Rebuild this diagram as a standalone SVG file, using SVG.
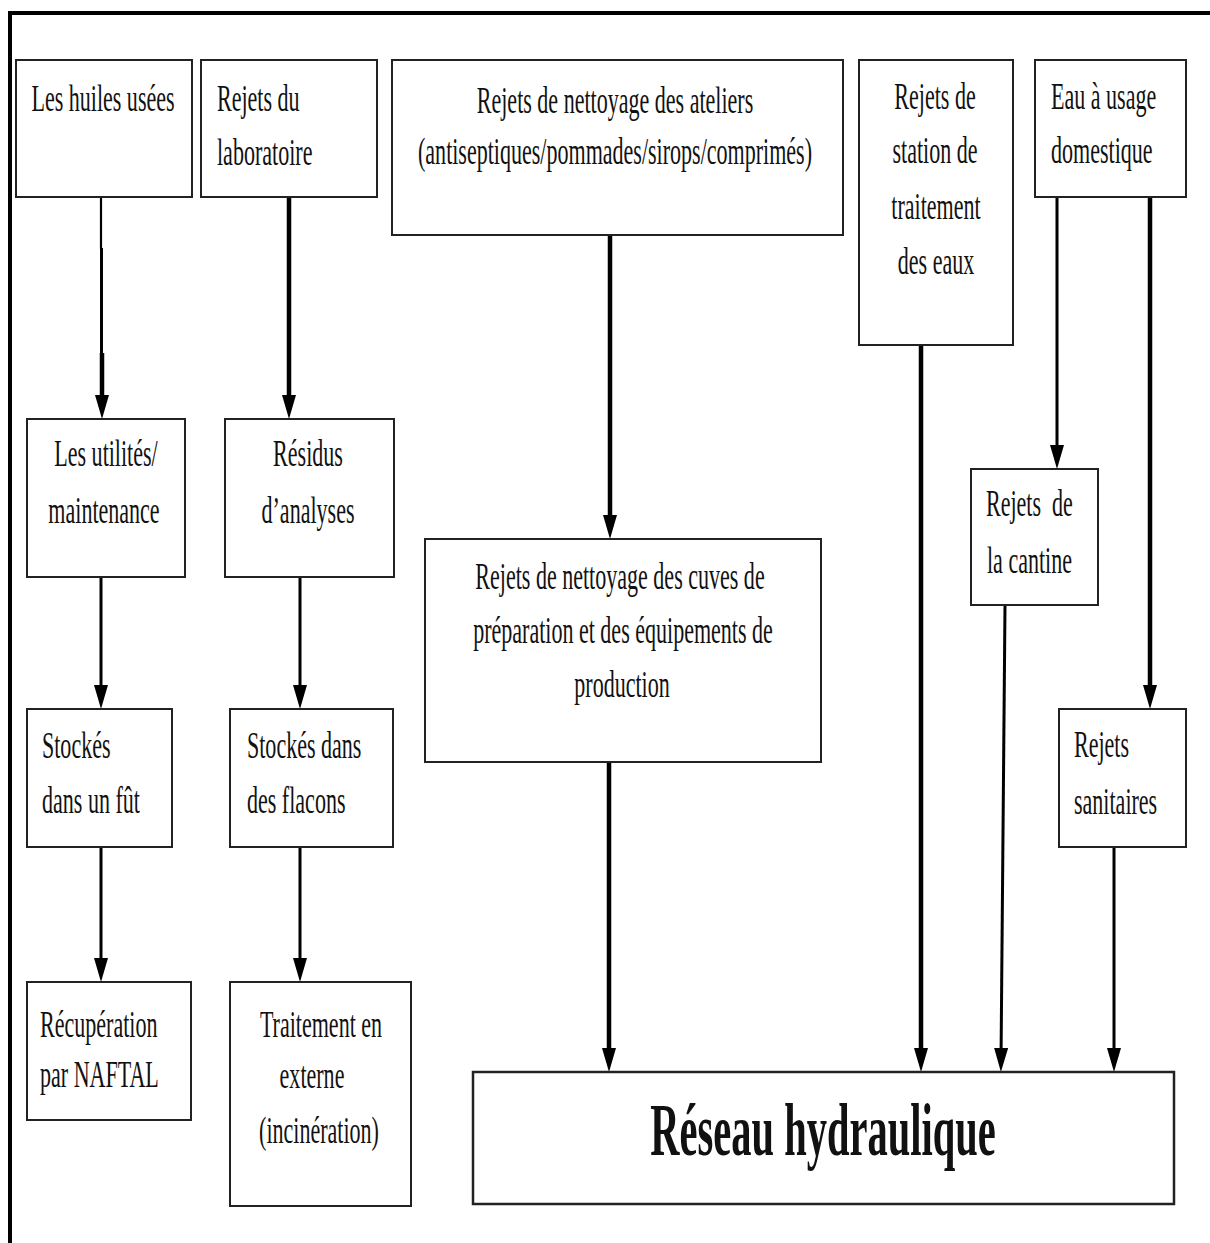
<svg xmlns="http://www.w3.org/2000/svg" width="1210" height="1243" viewBox="0 0 1210 1243">
  <style>
    .box { fill: #ffffff; stroke: #222222; stroke-width: 2; }
    .t { font-family: "Liberation Serif", "Times New Roman", serif; font-size: 38px; fill: #111111; }
    .c { text-anchor: middle; }
    .big { font-family: "Liberation Serif", "Times New Roman", serif; font-size: 75px; font-weight: bold; fill: #111111; text-anchor: middle; }
    .frame { stroke: #000000; stroke-width: 4; fill: none; }
    .link { stroke: #000000; fill: none; stroke-linecap: butt; }
    .w2 { stroke-width: 2.2; }
    .w3 { stroke-width: 3; }
    .w4 { stroke-width: 4.5; }
  </style>
  <defs>
    <marker id="head" markerUnits="userSpaceOnUse" markerWidth="26" markerHeight="16" refX="14" refY="7" orient="auto">
      <path d="M0,0 L24,7 L0,14 z" fill="#000000"/>
    </marker>
  </defs>

  <rect width="1210" height="1243" fill="#ffffff"/>

  <!-- outer frame: top and left edges -->
  <g id="frame">
    <line class="frame" x1="8" y1="13" x2="1210" y2="13"/>
    <line class="frame" x1="10" y1="11" x2="10" y2="1243"/>
  </g>

  <!-- connectors -->
  <g id="connectors">
    <!-- huiles usées -> utilités -->
    <line class="link w2" x1="101" y1="197" x2="101" y2="249"/>
    <line class="link w3" x1="101.5" y1="248" x2="101.5" y2="354"/>
    <line class="link w4" x1="102" y1="353" x2="102" y2="409" marker-end="url(#head)"/>
    <!-- laboratoire -> résidus -->
    <line class="link w4" x1="289" y1="197" x2="289" y2="409" marker-end="url(#head)"/>
    <!-- utilités -> fût -->
    <line class="link w3" x1="101" y1="577" x2="101" y2="699" marker-end="url(#head)"/>
    <!-- fût -> NAFTAL -->
    <line class="link w3" x1="101" y1="847" x2="101" y2="972" marker-end="url(#head)"/>
    <!-- résidus -> flacons -->
    <line class="link w3" x1="300" y1="577" x2="300" y2="699" marker-end="url(#head)"/>
    <!-- flacons -> traitement -->
    <line class="link w3" x1="300" y1="847" x2="300" y2="972" marker-end="url(#head)"/>
    <!-- ateliers -> cuves -->
    <line class="link w4" x1="610" y1="235" x2="610" y2="529" marker-end="url(#head)"/>
    <!-- cuves -> réseau -->
    <line class="link w4" x1="609" y1="762" x2="609" y2="1062" marker-end="url(#head)"/>
    <!-- station -> réseau -->
    <line class="link w4" x1="921" y1="345" x2="921" y2="1062" marker-end="url(#head)"/>
    <!-- eau domestique -> cantine -->
    <line class="link w3" x1="1057" y1="197" x2="1057" y2="459" marker-end="url(#head)"/>
    <!-- eau domestique -> sanitaires -->
    <line class="link w4" x1="1150" y1="197" x2="1150" y2="699" marker-end="url(#head)"/>
    <!-- cantine -> réseau -->
    <line class="link w3" x1="1005" y1="605" x2="1001" y2="1062" marker-end="url(#head)"/>
    <!-- sanitaires -> réseau -->
    <line class="link w3" x1="1114" y1="847" x2="1114" y2="1062" marker-end="url(#head)"/>
  </g>

  <!-- nodes -->
  <g id="huiles">
    <rect class="box" x="16" y="60" width="176" height="137"/>
    <text class="t c" transform="translate(103,111) scale(0.58,1)">Les huiles usées</text>
  </g>
  <g id="laboratoire">
    <rect class="box" x="201" y="60" width="176" height="137"/>
    <text class="t" transform="translate(217,111) scale(0.58,1)">Rejets du</text>
    <text class="t" transform="translate(217,165) scale(0.58,1)">laboratoire</text>
  </g>
  <g id="ateliers">
    <rect class="box" x="392" y="60" width="451" height="175"/>
    <text class="t c" transform="translate(615,113) scale(0.58,1)">Rejets de nettoyage des ateliers</text>
    <text class="t c" transform="translate(615,164) scale(0.58,1)">(antiseptiques/pommades/sirops/comprimés)</text>
  </g>
  <g id="station">
    <rect class="box" x="859" y="60" width="154" height="285"/>
    <text class="t c" transform="translate(935,109) scale(0.58,1)">Rejets de</text>
    <text class="t c" transform="translate(935,163) scale(0.58,1)">station de</text>
    <text class="t c" transform="translate(936,219) scale(0.58,1)">traitement</text>
    <text class="t c" transform="translate(936,274) scale(0.58,1)">des eaux</text>
  </g>
  <g id="eau-domestique">
    <rect class="box" x="1035" y="60" width="151" height="137"/>
    <text class="t" transform="translate(1051,109) scale(0.58,1)">Eau à usage</text>
    <text class="t" transform="translate(1051,163) scale(0.58,1)">domestique</text>
  </g>
  <g id="utilites">
    <rect class="box" x="27" y="419" width="158" height="158"/>
    <text class="t c" transform="translate(106,466) scale(0.58,1)">Les utilités/</text>
    <text class="t c" transform="translate(104,523) scale(0.58,1)">maintenance</text>
  </g>
  <g id="residus">
    <rect class="box" x="225" y="419" width="169" height="158"/>
    <text class="t c" transform="translate(308,466) scale(0.58,1)">Résidus</text>
    <text class="t c" transform="translate(308,523) scale(0.58,1)">d’analyses</text>
  </g>
  <g id="cuves">
    <rect class="box" x="425" y="539" width="396" height="223"/>
    <text class="t c" transform="translate(620,589) scale(0.58,1)">Rejets de nettoyage des cuves de</text>
    <text class="t c" transform="translate(623,643) scale(0.58,1)">préparation et des équipements de</text>
    <text class="t c" transform="translate(622,697) scale(0.58,1)">production</text>
  </g>
  <g id="cantine">
    <rect class="box" x="971" y="469" width="127" height="136"/>
    <text class="t" xml:space="preserve" transform="translate(986,516) scale(0.58,1)">Rejets  de</text>
    <text class="t" transform="translate(987,573) scale(0.58,1)">la cantine</text>
  </g>
  <g id="sanitaires">
    <rect class="box" x="1059" y="709" width="127" height="138"/>
    <text class="t" transform="translate(1074,757) scale(0.58,1)">Rejets</text>
    <text class="t" transform="translate(1074,814) scale(0.58,1)">sanitaires</text>
  </g>
  <g id="fut">
    <rect class="box" x="27" y="709" width="145" height="138"/>
    <text class="t" transform="translate(42,758) scale(0.58,1)">Stockés</text>
    <text class="t" transform="translate(42,813) scale(0.58,1)">dans un fût</text>
  </g>
  <g id="flacons">
    <rect class="box" x="230" y="709" width="163" height="138"/>
    <text class="t" transform="translate(247,758) scale(0.58,1)">Stockés dans</text>
    <text class="t" transform="translate(247,813) scale(0.58,1)">des flacons</text>
  </g>
  <g id="naftal">
    <rect class="box" x="27" y="982" width="164" height="138"/>
    <text class="t" transform="translate(40,1037) scale(0.58,1)">Récupération</text>
    <text class="t" transform="translate(40,1087) scale(0.58,1)">par NAFTAL</text>
  </g>
  <g id="traitement">
    <rect class="box" x="230" y="982" width="181" height="224"/>
    <text class="t c" transform="translate(321,1037) scale(0.58,1)">Traitement en</text>
    <text class="t c" transform="translate(312,1088) scale(0.58,1)">externe</text>
    <text class="t c" transform="translate(319,1143) scale(0.58,1)">(incinération)</text>
  </g>
  <g id="reseau">
    <rect class="box" x="473" y="1072" width="701" height="132" style="stroke-width:2.5"/>
    <text class="big" transform="translate(823,1155) scale(0.54,1)">Réseau hydraulique</text>
  </g>
</svg>
